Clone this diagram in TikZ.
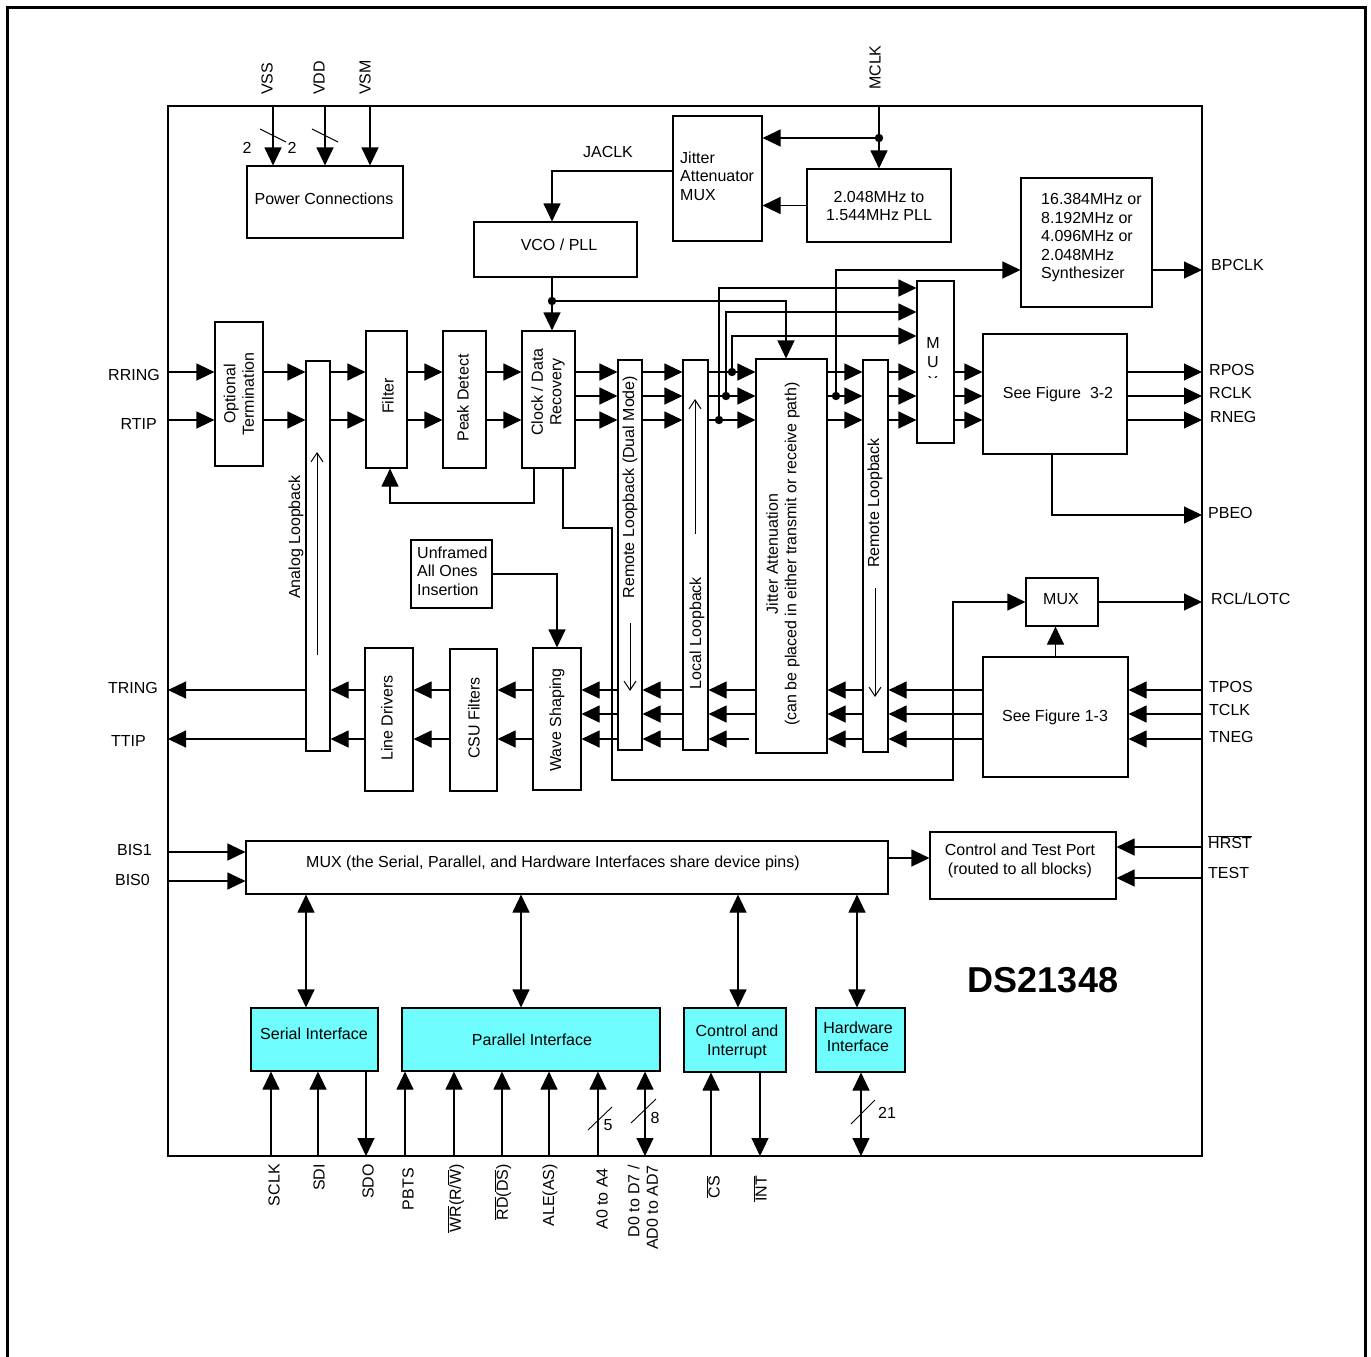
\documentclass[tikz,border=0pt]{standalone}
\usepackage{fontspec}
\setmainfont{Liberation Sans}
\usetikzlibrary{arrows.meta}
\newcommand\myfs{\fontsize{16}{18.5}\selectfont}
\definecolor{ifc}{RGB}{110,252,252}
\begin{document}
\begin{tikzpicture}[x=1pt,y=-1pt,
  every node/.style={font=\myfs, inner sep=0pt},
  box/.style={draw, line width=1.1pt, rectangle, inner sep=0pt},
  ibox/.style={box, fill=ifc},
  arr/.style={line width=1.1pt, -{Triangle[length=18pt,width=17pt]}},
  darr/.style={line width=1.1pt, {Triangle[length=18pt,width=17pt]}-{Triangle[length=18pt,width=17pt]}},
  oarr/.style={line width=1pt, -{Straight Barb[length=9pt,width=12pt]}},
  dotc/.style={fill=black},
  sl/.style={line width=0.9pt},
  vl/.style={rotate=90}]
\useasboundingbox (0,0) rectangle (1371,1357);
\draw[line width=3pt] (7,1362) -- (7,7) -- (1365,7) -- (1365,1362);
\node[box, minimum width=1034pt, minimum height=1050pt] (chip) at (685,631) {};

% ---------- boxes ----------
\node[box, minimum width=156pt, minimum height=72pt] (pwr) at (325,202) {};
\node[box, minimum width=89pt, minimum height=125pt] (jmux) at (717.5,178.5) {};
\node[box, minimum width=144pt, minimum height=73pt] (pll) at (879,205.5) {};
\node[box, minimum width=163pt, minimum height=55pt] (vco) at (555.5,249.5) {};
\node[box, minimum width=131pt, minimum height=129pt] (syn) at (1086.5,242.5) {};
\node[box, minimum width=48pt, minimum height=144pt] (opt) at (239,394) {};
\node[box, minimum width=24pt, minimum height=390pt] (anl) at (318,556) {};
\node[box, minimum width=41pt, minimum height=137pt] (flt) at (386.5,399.5) {};
\node[box, minimum width=43pt, minimum height=137pt] (pkd) at (464.5,399.5) {};
\node[box, minimum width=53pt, minimum height=137pt] (cdr) at (548.5,399.5) {};
\node[box, minimum width=24pt, minimum height=390pt] (rldm) at (630,555) {};
\node[box, minimum width=25pt, minimum height=390pt] (ll) at (695.5,555) {};
\node[box, minimum width=71pt, minimum height=394pt] (ja) at (791.5,556) {};
\node[box, minimum width=25pt, minimum height=392pt] (rl) at (875.5,556) {};
\node[box, minimum width=37pt, minimum height=162pt] (rmux) at (935.5,362) {};
\node[box, minimum width=144pt, minimum height=120pt] (f32) at (1055,394) {};
\node[box, minimum width=81pt, minimum height=68pt] (unf) at (451.5,574) {};
\node[box, minimum width=48pt, minimum height=143pt] (ld) at (389,719.5) {};
\node[box, minimum width=47pt, minimum height=142pt] (csu) at (473.5,720) {};
\node[box, minimum width=48pt, minimum height=142pt] (ws) at (557,719) {};
\node[box, minimum width=72pt, minimum height=48pt] (lmux) at (1062,602) {};
\node[box, minimum width=145pt, minimum height=120pt] (f13) at (1055.5,717) {};
\node[box, minimum width=642pt, minimum height=53pt] (bmux) at (567,867.5) {};
\node[box, minimum width=186pt, minimum height=67pt] (ctp) at (1023,865.5) {};
\node[ibox, minimum width=127pt, minimum height=63pt] (ser) at (314.5,1039.5) {};
\node[ibox, minimum width=258pt, minimum height=63pt] (par) at (531,1039.5) {};
\node[ibox, minimum width=102pt, minimum height=64pt] (ci) at (735,1040) {};
\node[ibox, minimum width=89pt, minimum height=64pt] (hw) at (860.5,1040) {};

% ---------- box texts ----------
\node (tpwr) at (324,199) {Power Connections};
\node[anchor=west, align=left] (tjm) at (680,176) {Jitter\\Attenuator\\MUX};
\node[align=center] (tpll) at (879,206) {2.048MHz to\\1.544MHz PLL};
\node (tvco) at (559,245) {VCO / PLL};
\node[anchor=west, align=left] (tsyn) at (1041,238) {16.384MHz or\\8.192MHz or\\4.096MHz or\\2.048MHz\\Synthesizer};
\node[vl, align=center] (topt) at (239,394) {Optional\\Termination};
\node[vl] (tanl) at (296,537) {Analog Loopback};
\node[vl] (tflt) at (388,396) {Filter};
\node[vl] (tpkd) at (463,398) {Peak Detect};
\node[vl, align=center] (tcdr) at (548,392) {Clock / Data\\Recovery};
\node[vl] (trldm) at (630,487) {Remote Loopback (Dual Mode)};
\node[vl] (tll) at (697,633) {Local Loopback};
\node[vl, align=center] (tja) at (783,554) {Jitter Attenuation\\(can be placed in either transmit or receive path)};
\node[vl] (trl) at (875,503) {Remote Loopback};
\begin{scope}
\clip (915,320) rectangle (956,377.5);
\node[align=center, font=\fontsize{16}{19.5}\selectfont] (tmux) at (933,362) {M\\U\\X};
\end{scope}
\node (tf32) at (1058,394) {See Figure~~3-2};
\node[anchor=west, align=left] (tunf) at (417,571) {Unframed\\All Ones\\Insertion};
\node[vl] (tld) at (387,718) {Line Drivers};
\node[vl] (tcsu) at (474,718) {CSU Filters};
\node[vl] (tws) at (557,720) {Wave Shaping};
\node (tlmux) at (1061,599) {MUX};
\node (tf13) at (1055,717) {See Figure 1-3};
\node (tbmux) at (553,863) {MUX (the Serial, Parallel, and Hardware Interfaces share device pins)};
\node[align=center] (tctp) at (1020,861) {Control and Test Port\\(routed to all blocks)};
\node (tser) at (314,1034) {Serial Interface};
\node (tpar) at (532,1040) {Parallel Interface};
\node[align=center] (tci) at (737,1042) {Control and\\Interrupt};
\node[align=center] (thw) at (858,1037) {Hardware\\Interface};
\node[font=\bfseries\fontsize{36}{40}\selectfont] (tds) at (1043,980) {DS21348};

% ---------- coordinates ----------
\coordinate (r1) at (0,372); \coordinate (r2) at (0,396); \coordinate (r3) at (0,420);
\coordinate (t1) at (0,690); \coordinate (t2) at (0,714); \coordinate (t3) at (0,739);

% ---------- power ----------
\coordinate (pVSS) at (273,106); \coordinate (pVDD) at (325,106); \coordinate (pVSM) at (370,106);
\draw[arr] (pVSS) -- (pVSS |- pwr.north);
\draw[arr] (pVDD) -- (pVDD |- pwr.north);
\draw[arr] (pVSM) -- (pVSM |- pwr.north);
\draw[sl] (260,129) -- (286,142);
\draw[sl] (312,129) -- (338,142);
\node (n2a) at (247,148) {2};
\node (n2b) at (292,148) {2};
\node[vl, anchor=west] (lVSS) at (267,95) {VSS};
\node[vl, anchor=west] (lVDD) at (319,95) {VDD};
\node[vl, anchor=west] (lVSM) at (365,95) {VSM};

% ---------- clock section ----------
\coordinate (pMC) at (879,106); \coordinate (dM) at (879,138);
\node[vl, anchor=west] (lMC) at (875,90) {MCLK};
\draw[arr] (pMC) -- (pll.north);
\draw[arr] (dM) -- (dM -| jmux.east);
\fill[dotc] (dM) circle (4.2pt);
\draw[arr] (pll.west) -- (pll.west -| jmux.east);
\coordinate (yJ) at (0,171); \coordinate (xV) at (552,0);
\draw[arr] (jmux.west |- yJ) -| (xV |- vco.north);
\node (lJA) at (608,152) {JACLK};
\coordinate (dV) at (552,301); \coordinate (xJA) at (786,0);
\draw[arr] (xV |- vco.south) -- (xV |- cdr.north);
\draw[arr] (dV) -| (xJA |- ja.north);
\fill[dotc] (dV) circle (4.2pt);

% ---------- receive path ----------
\coordinate (pRR) at (168,372); \coordinate (pRT) at (168,420);
\node[anchor=east] (lRR) at (160,375) {RRING};
\node[anchor=east] (lRT) at (157,424) {RTIP};
\draw[arr] (pRR) -- (opt.west |- r1);
\draw[arr] (pRT) -- (opt.west |- r3);
\foreach \y in {r1,r3} {
  \draw[arr] (opt.east |- \y) -- (anl.west |- \y);
  \draw[arr] (anl.east |- \y) -- (flt.west |- \y);
  \draw[arr] (flt.east |- \y) -- (pkd.west |- \y);
  \draw[arr] (pkd.east |- \y) -- (cdr.west |- \y);
}
\foreach \y in {r1,r2,r3} {
  \draw[arr] (cdr.east |- \y) -- (rldm.west |- \y);
  \draw[arr] (rldm.east |- \y) -- (ll.west |- \y);
  \draw[arr] (ll.east |- \y) -- (ja.west |- \y);
  \draw[arr] (ja.east |- \y) -- (rl.west |- \y);
  \draw[arr] (rl.east |- \y) -- (rmux.west |- \y);
  \draw[arr] (rmux.east |- \y) -- (f32.west |- \y);
}
% taps to mux
\coordinate (dA) at (719,420); \coordinate (dB) at (726,396); \coordinate (dC) at (732,372);
\coordinate (m1) at (0,288); \coordinate (m2) at (0,312); \coordinate (m3) at (0,336);
\draw[arr] (dA) |- (rmux.west |- m1);
\draw[arr] (dB) |- (rmux.west |- m2);
\draw[arr] (dC) |- (rmux.west |- m3);
\fill[dotc] (dA) circle (4.2pt); \fill[dotc] (dB) circle (4.2pt); \fill[dotc] (dC) circle (4.2pt);
\coordinate (dD) at (836,396); \coordinate (yS) at (0,270);
\draw[arr] (dD) |- (syn.west |- yS);
\fill[dotc] (dD) circle (4.2pt);
\coordinate (pBP) at (1202,270);
\draw[arr] (syn.east |- yS) -- (pBP);
\node[anchor=west] (lBP) at (1211,265) {BPCLK};
% outputs
\coordinate (pRP) at (1202,372); \coordinate (pRC) at (1202,396); \coordinate (pRN) at (1202,420);
\draw[arr] (f32.east |- r1) -- (pRP);
\draw[arr] (f32.east |- r2) -- (pRC);
\draw[arr] (f32.east |- r3) -- (pRN);
\node[anchor=west] (lRP) at (1209,370) {RPOS};
\node[anchor=west] (lRC) at (1209,393) {RCLK};
\node[anchor=west] (lRN) at (1210,417) {RNEG};
\coordinate (xP) at (1052,0); \coordinate (pPB) at (1202,515);
\draw[arr] (xP |- f32.south) |- (pPB);
\node[anchor=west] (lPB) at (1208,513) {PBEO};
% CDR feedback to filter
\coordinate (xF1) at (534,0); \coordinate (xF2) at (390,0); \coordinate (yF) at (0,503);
\draw[arr] (xF1 |- cdr.south) |- (xF2 |- yF) -- (xF2 |- flt.south);
% CDR to small mux
\coordinate (xC2) at (563,0); \coordinate (k1) at (612,528); \coordinate (k2) at (953,780);
\draw[arr] (xC2 |- cdr.south) |- (k1) |- (k2) |- (lmux.west);
\coordinate (pRCL) at (1202,602);
\draw[arr] (lmux.east) -- (pRCL);
\node[anchor=west] (lRCL) at (1211,599) {RCL/LOTC};
\draw[arr] (f13.north) -- (f13.north |- lmux.south);

% loopback direction arrows
\coordinate (a1) at (317,655); \coordinate (a2) at (317,452);
\draw[oarr] (a1) -- (a2);
\coordinate (b1) at (630,623); \coordinate (b2) at (630,691);
\draw[oarr] (b1) -- (b2);
\coordinate (c1) at (695,534); \coordinate (c2) at (695,399);
\draw[oarr] (c1) -- (c2);
\coordinate (e1) at (875,588); \coordinate (e2) at (875,697);
\draw[oarr] (e1) -- (e2);

% ---------- transmit path ----------
\coordinate (pTP) at (1202,690); \coordinate (pTC) at (1202,714); \coordinate (pTN) at (1202,739);
\draw[arr] (pTP) -- (f13.east |- t1);
\draw[arr] (pTC) -- (f13.east |- t2);
\draw[arr] (pTN) -- (f13.east |- t3);
\node[anchor=west] (lTP) at (1209,687) {TPOS};
\node[anchor=west] (lTC) at (1209,710) {TCLK};
\node[anchor=west] (lTN) at (1209,737) {TNEG};
\foreach \y in {t1,t2,t3} {
  \draw[arr] (f13.west |- \y) -- (rl.east |- \y);
  \draw[arr] (rl.west |- \y) -- (ja.east |- \y);
  \draw[arr] (ll.west |- \y) -- (rldm.east |- \y);
  \draw[arr] (rldm.west |- \y) -- (ws.east |- \y);
}
\draw[arr] (ja.west |- t1) -- (ll.east |- t1);
\draw[arr] (ja.west |- t2) -- (ll.east |- t2);
\coordinate (jg) at (749,739);
\draw[arr] (jg) -- (ll.east |- t3);
\foreach \y in {t1,t3} {
  \draw[arr] (ws.west |- \y) -- (csu.east |- \y);
  \draw[arr] (csu.west |- \y) -- (ld.east |- \y);
  \draw[arr] (ld.west |- \y) -- (anl.east |- \y);
}
\coordinate (pTR) at (168,690); \coordinate (pTT) at (168,739);
\draw[arr] (anl.west |- t1) -- (pTR);
\draw[arr] (anl.west |- t3) -- (pTT);
\node[anchor=east] (lTR) at (158,688) {TRING};
\node[anchor=east] (lTT) at (146,741) {TTIP};
\draw[arr] (unf.east) -| (ws.north);

% ---------- bottom mux ----------
\coordinate (pB1) at (168,852); \coordinate (pB0) at (168,881);
\draw[arr] (pB1) -- (bmux.west |- pB1);
\draw[arr] (pB0) -- (bmux.west |- pB0);
\node[anchor=east] (lB1) at (152,850) {BIS1};
\node[anchor=east] (lB0) at (150,880) {BIS0};
\coordinate (yC) at (0,858);
\draw[arr] (bmux.east |- yC) -- (ctp.west |- yC);
\coordinate (pHR) at (1202,847); \coordinate (pTE) at (1202,878);
\draw[arr] (pHR) -- (ctp.east |- pHR);
\draw[arr] (pTE) -- (ctp.east |- pTE);
\node[anchor=west] (lHR) at (1208,842) {$\overline{\hbox{HRST}}$};
\node[anchor=west] (lTE) at (1208,873) {TEST};
\coordinate (xs) at (306,0); \coordinate (xpa) at (521,0); \coordinate (xci) at (738,0); \coordinate (xhw) at (857,0);
\draw[darr] (xs |- bmux.south) -- (xs |- ser.north);
\draw[darr] (xpa |- bmux.south) -- (xpa |- par.north);
\draw[darr] (xci |- bmux.south) -- (xci |- ci.north);
\draw[darr] (xhw |- bmux.south) -- (xhw |- hw.north);

% ---------- bottom pins ----------
\coordinate (pSCLK) at (271,1156); \coordinate (pSDI) at (318,1156); \coordinate (pSDO) at (366,1156);
\coordinate (pPBTS) at (405,1156); \coordinate (pWR) at (454,1156); \coordinate (pRD) at (502,1156);
\coordinate (pALE) at (549,1156); \coordinate (pA) at (598,1156); \coordinate (pD) at (645,1156);
\coordinate (pCS) at (711,1156); \coordinate (pINT) at (760,1156); \coordinate (pHW) at (861,1156);
\draw[arr] (pSCLK) -- (pSCLK |- ser.south);
\draw[arr] (pSDI) -- (pSDI |- ser.south);
\draw[arr] (pSDO |- ser.south) -- (pSDO);
\draw[arr] (pPBTS) -- (pPBTS |- par.south);
\draw[arr] (pWR) -- (pWR |- par.south);
\draw[arr] (pRD) -- (pRD |- par.south);
\draw[arr] (pALE) -- (pALE |- par.south);
\draw[arr] (pA) -- (pA |- par.south);
\draw[darr] (pD |- par.south) -- (pD);
\draw[arr] (pCS) -- (pCS |- ci.south);
\draw[arr] (pINT |- ci.south) -- (pINT);
\draw[darr] (pHW |- hw.south) -- (pHW);
\draw[sl] (588,1130) -- (612,1107);
\node (n5) at (608,1125) {5};
\draw[sl] (631,1123) -- (656,1099);
\node (n8) at (655,1118) {8};
\draw[sl] (851,1124) -- (875,1100);
\node (n21) at (887,1113) {21};
\node[vl, anchor=east] (lSCLK) at (274,1164) {SCLK};
\node[vl, anchor=east] (lSDI) at (319,1164) {SDI};
\node[vl, anchor=east] (lSDO) at (368,1164) {SDO};
\node[vl, anchor=east] (lPBTS) at (408,1168) {PBTS};
\node[vl, anchor=east] (lWR) at (456,1164) {$\overline{\hbox{WR}}$(R/$\overline{\hbox{W}}$)};
\node[vl, anchor=east] (lRD) at (503,1164) {$\overline{\hbox{RD}}$($\overline{\hbox{DS}}$)};
\node[vl, anchor=east] (lALE) at (550,1164) {ALE(AS)};
\node[vl, anchor=east] (lA) at (602,1168) {A0 to A4};
\node[vl, anchor=east, align=right] (lD) at (643,1165) {D0 to D7 /\\AD0 to AD7};
\node[vl, anchor=east] (lCS) at (713,1176) {$\overline{\hbox{CS}}$};
\node[vl, anchor=east] (lINT) at (760,1176) {$\overline{\hbox{INT}}$};
\end{tikzpicture}
\end{document}
